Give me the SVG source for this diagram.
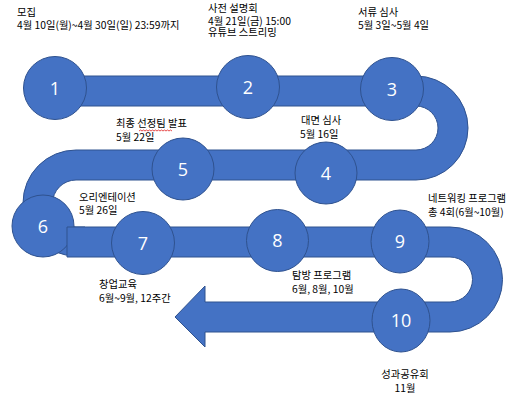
<svg xmlns="http://www.w3.org/2000/svg" width="521" height="407" viewBox="0 0 521 407">
<style>
.band{fill:#4472C4;stroke:#2F528F;stroke-width:1}
.c{fill:#4472C4;stroke:#2F528F;stroke-width:1}
.n{fill:#fff;font-family:"Open Sans","Noto Sans",sans-serif;font-size:18px;text-anchor:middle}
.t{fill:#000;font-family:"Noto Sans CJK KR","Noto Sans",sans-serif;font-size:10.3px}
.m{text-anchor:middle}
</style>
<rect width="521" height="407" fill="#fff"/>
<g id="connectors">
<path class="band" d="M55,76 H416 A52,52 0 0 1 416,180 H76 A23.5,23.5 0 0 0 76,227 H85 V256 H76 A53,53 0 0 1 76,150 H416 A22,22 0 0 0 416,106 H55 Z"/>
</g>
<g id="node-1"><circle class="c" cx="55" cy="88" r="31.5"/><text class="n" x="55" y="94.5">1</text>
<text class="t" x="17" y="16">모집</text><text class="t" x="17" y="28.5">4월 10일(월)~4월 30일(일) 23:59까지</text></g>
<g id="node-2"><circle class="c" cx="248" cy="87" r="31.5"/><text class="n" x="248" y="93.5">2</text>
<text class="t" x="208" y="12">사전 설명회</text><text class="t" x="208" y="24.5">4월 21일(금) 15:00</text><text class="t" x="208" y="36">유튜브 스트리밍</text></g>
<g id="node-3"><circle class="c" cx="392" cy="89" r="31.5"/><text class="n" x="392" y="95.5">3</text>
<text class="t" x="358" y="16">서류 심사</text><text class="t" x="358" y="28.5">5월 3일~5월 4일</text></g>
<g id="node-4"><circle class="c" cx="326" cy="173" r="31"/><text class="n" x="326" y="179.5">4</text>
<text class="t" x="301" y="124">대면 심사</text><text class="t" x="300" y="137.5">5월 16일</text></g>
<g id="node-5"><circle class="c" cx="183" cy="169" r="31"/><text class="n" x="183" y="175.5">5</text>
<text class="t" x="116" y="127">최종 선정팀 발표</text><text class="t" x="116" y="141">5월 22일</text>
<path d="M139,131 l1.5,-1 l1.5,1 l1.5,-1 l1.5,1 l1.5,-1 l1.5,1 l1.5,-1 l1.5,1 l1.5,-1 l1.5,1 l1.5,-1 l1.5,1 l1.5,-1 l1.5,1 l1.5,-1 l1.5,1 l1.5,-1 l1.5,1 l1.5,-1 l1.5,1 l1.5,-1 l1.5,1" fill="none" stroke="#E02020" stroke-width="0.8"/></g>
<g id="node-6"><circle class="c" cx="43" cy="226" r="31"/><text class="n" x="43" y="232.5">6</text>
<text class="t" x="79" y="200.5">오리엔테이션</text><text class="t" x="79" y="213.5">5월 26일</text></g>
<g id="connectors-front">
<path class="band" d="M67,227 H450 A52.5,52.5 0 0 1 450,332 H205 V347 L175,317 L205,286 V302 H450 A22.5,22.5 0 0 0 450,257 H67 Z"/>
</g>
<g id="node-7"><circle class="c" cx="143" cy="243" r="31.5"/><text class="n" x="143" y="249.5">7</text>
<text class="t" x="99" y="288">창업교육</text><text class="t" x="99" y="302">6월~9월, 12주간</text></g>
<g id="node-8"><circle class="c" cx="277.5" cy="240.5" r="31"/><text class="n" x="277.5" y="247">8</text>
<text class="t" x="292" y="278.5">탐방 프로그램</text><text class="t" x="292" y="292.5">6월, 8월, 10월</text></g>
<g id="node-9"><ellipse class="c" cx="400" cy="241.5" rx="29" ry="31.5"/><text class="n" x="400" y="248">9</text>
<text class="t" x="428" y="202">네트워킹 프로그램</text><text class="t" x="428" y="215.5">총 4회(6월~10월)</text></g>
<g id="node-10"><ellipse class="c" cx="401" cy="320.5" rx="29" ry="31.5"/><text class="n" x="401" y="327">10</text>
<text class="t m" x="405" y="377.5">성과공유회</text><text class="t m" x="405" y="391.5">11월</text></g>
</svg>
